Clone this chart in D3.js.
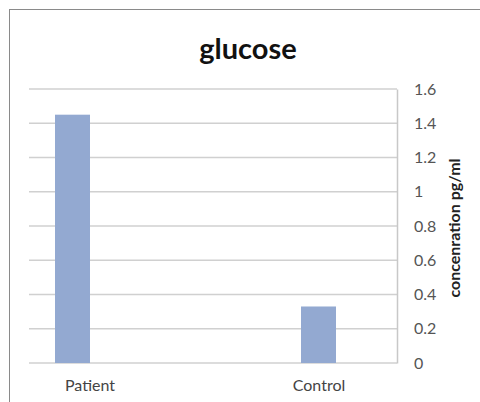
<!DOCTYPE html>
<html><head><meta charset="utf-8">
<script src="https://cdn.jsdelivr.net/npm/d3@7"></script>
<style>body{margin:0;background:#fff}svg{display:block}</style>
</head><body>
<script>
const categories = ["Patient", "Control"];
const values = [1.45, 0.33];
const yTicks = [0, 0.2, 0.4, 0.6, 0.8, 1, 1.2, 1.4, 1.6];
const title = "glucose";
const yTitle = "concenration pg/ml";

const W = 480, H = 402;
const FONT = "Lato, 'Open Sans', sans-serif";
const svg = d3.select("body").append("svg").attr("width", W).attr("height", H);
svg.append("rect").attr("x", 9.5).attr("y", 9.5).attr("width", W + 20).attr("height", H + 20)
  .attr("fill", "#fff").attr("stroke", "#8a8a8a").attr("stroke-width", 1);

const x0 = 29, x1 = 397, yTop = 89, yBot = 363;
const y = d3.scaleLinear().domain([0, 1.6]).range([yBot, yTop]);
const x = d3.scaleBand().domain(categories).range([x0, x1]).paddingInner(0).paddingOuter(0);

const g = svg.append("g");
g.selectAll("line.grid").data(yTicks).enter().append("line")
  .attr("x1", x0).attr("x2", x1).attr("y1", d => y(d)).attr("y2", d => y(d))
  .attr("stroke", "#d0d0d0").attr("stroke-width", 1.5);

const bw = 35;
const offs = [26, 88];
g.selectAll("rect.bar").data(values).enter().append("rect")
  .attr("x", (d, i) => x(categories[i]) + offs[i])
  .attr("y", d => y(d)).attr("width", bw).attr("height", d => yBot - y(d))
  .attr("fill", "#93a9d1");

const axis = d3.axisRight(y).tickValues(yTicks).tickSize(0).tickPadding(17)
  .tickFormat(d => String(d));
const ag = svg.append("g").attr("transform", `translate(${x1},0)`).call(axis);
ag.select(".domain").attr("stroke", "#c8c8c8").attr("stroke-width", 1.5);
ag.selectAll("text").attr("font-family", FONT).attr("font-size", 16).attr("fill", "#555");

const labOff = [61, 106];
svg.selectAll("text.cat").data(categories).enter().append("text")
  .attr("x", (d, i) => x(d) + labOff[i]).attr("y", 391).attr("text-anchor", "middle")
  .attr("font-family", FONT).attr("font-size", 16).attr("fill", "#444")
  .text(d => d);

svg.append("text").attr("x", 248).attr("y", 59).attr("text-anchor", "middle")
  .attr("font-family", FONT).attr("font-weight", "bold")
  .attr("font-size", 29).attr("fill", "#111").text(title);

svg.append("text").attr("transform", "translate(460,228) rotate(-90)").attr("text-anchor", "middle")
  .attr("font-family", FONT).attr("font-weight", "bold")
  .attr("font-size", 16).attr("fill", "#222").text(yTitle);
</script>
</body></html>
